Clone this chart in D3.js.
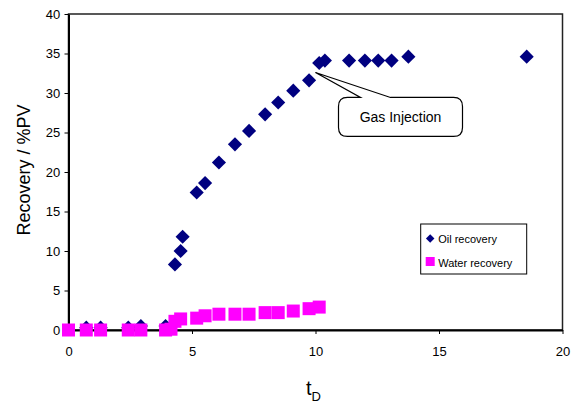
<!DOCTYPE html>
<html>
<head>
<meta charset="utf-8">
<script src="https://cdn.jsdelivr.net/npm/d3@7"></script>
<style>
  body { margin: 0; background: #fff; }
  svg { font-family: "Liberation Sans", Arial, sans-serif; }
</style>
</head>
<body>
<div class="center"></div>
<script>
// data
var oilTd  = [0.72, 1.3, 2.42, 2.93, 3.93, 4.31, 4.54, 4.62, 5.19, 5.53, 6.09, 6.74, 7.31, 7.96, 8.49, 9.10, 9.74, 10.15, 10.38, 11.36, 12.0, 12.54, 13.08, 13.76, 18.55];
var oilRec = [0.3, 0.3, 0.3, 0.5, 0.5, 8.3, 10.0, 11.8, 17.4, 18.6, 21.2, 23.5, 25.2, 27.3, 28.8, 30.3, 31.6, 33.8, 34.1, 34.1, 34.1, 34.1, 34.1, 34.6, 34.6];

var waterTd  = [0, 0.72, 1.3, 2.42, 2.93, 3.93, 4.15, 4.31, 4.54, 5.19, 5.53, 6.09, 6.74, 7.31, 7.96, 8.49, 9.10, 9.74, 10.15];
var waterRec = [0, 0, 0, 0, 0, 0, 0.1, 1.1, 1.4, 1.5, 1.8, 2.0, 2.0, 2.0, 2.2, 2.2, 2.4, 2.7, 2.9];

var xTicks = [0, 5, 10, 15, 20];
var yTicks = [0, 5, 10, 15, 20, 25, 30, 35, 40];

var seriesNames = ["Oil recovery", "Water recovery"];
var calloutText = "Gas Injection";
var calloutAt = {td: 10.0, rec: 32.6};

// Set the dimensions of the canvas / graph
var margin = {top: 14, right: 8.5, bottom: 78, left: 68.5},
    width = 571 - margin.left - margin.right,
    height = 408 - margin.top - margin.bottom;

var x = d3.scaleLinear().domain([0, 20]).range([0, width]);
var y = d3.scaleLinear().domain([0, 40]).range([height, 0]);

var oil = oilTd.map(function(t, i) { return {td: t, rec: oilRec[i]}; });
var water = waterTd.map(function(t, i) { return {td: t, rec: waterRec[i]}; });

var svg = d3.select("div.center").append("svg")
    .attr("width", 571)
    .attr("height", 408)
  .append("g")
    .attr("transform", "translate(" + margin.left + "," + margin.top + ")");

// plot frame
svg.append("rect")
    .attr("width", width)
    .attr("height", height)
    .attr("fill", "none")
    .attr("stroke", "#222")
    .attr("stroke-width", 1.5);

// axes
var xAxis = svg.append("g")
    .attr("transform", "translate(0," + height + ")")
    .call(d3.axisBottom(x).tickValues(xTicks).tickSize(4).tickSizeOuter(0));
var yAxis = svg.append("g")
    .call(d3.axisLeft(y).tickValues(yTicks).tickSize(4).tickSizeOuter(0));

[xAxis, yAxis].forEach(function(a) {
  a.select(".domain").attr("stroke", "#000").attr("stroke-width", 2);
  a.selectAll(".tick line").attr("stroke", "#000");
  a.selectAll(".tick text")
      .attr("font-size", 13)
      .attr("font-family", "Liberation Sans, Arial, sans-serif")
      .attr("fill", "#000");
});
xAxis.selectAll(".tick text").attr("dy", "1.45em");
yAxis.selectAll(".tick text").attr("dx", "-0.1em");

// markers
var diamond = d3.symbol().type(d3.symbolSquare).size(100);
var square = d3.symbol().type(d3.symbolSquare).size(169);

svg.selectAll("path.oil")
    .data(oil)
    .enter().append("path")
    .attr("class", "oil")
    .attr("d", diamond)
    .attr("fill", "#000080")
    .attr("transform", function(d) { return "translate(" + x(d.td) + "," + y(d.rec) + ") rotate(45)"; });

svg.selectAll("path.water")
    .data(water)
    .enter().append("path")
    .attr("class", "water")
    .attr("d", square)
    .attr("fill", "#ff00ff")
    .attr("transform", function(d) { return "translate(" + x(d.td) + "," + y(d.rec) + ")"; });

// callout
var tipX = x(calloutAt.td), tipY = y(calloutAt.rec);
var bx0 = tipX + 23, by0 = tipY + 25, bx1 = bx0 + 124, by1 = by0 + 39, r = 9;
var p = d3.path();
p.moveTo(bx0 + r, by0);
p.lineTo(bx0 + 22, by0);
p.lineTo(tipX, tipY);
p.lineTo(bx0 + 52, by0);
p.lineTo(bx1 - r, by0);
p.quadraticCurveTo(bx1, by0, bx1, by0 + r);
p.lineTo(bx1, by1 - r);
p.quadraticCurveTo(bx1, by1, bx1 - r, by1);
p.lineTo(bx0 + r, by1);
p.quadraticCurveTo(bx0, by1, bx0, by1 - r);
p.lineTo(bx0, by0 + r);
p.quadraticCurveTo(bx0, by0, bx0 + r, by0);
p.closePath();
svg.append("path")
    .attr("d", p.toString())
    .attr("fill", "#fff")
    .attr("stroke", "#000")
    .attr("stroke-width", 1.2);
svg.append("text")
    .attr("x", (bx0 + bx1) / 2)
    .attr("y", by0 + 25)
    .attr("text-anchor", "middle")
    .attr("font-size", 14)
    .text(calloutText);

// legend
var lg = svg.append("g").attr("transform", "translate(" + (420.7 - margin.left) + "," + (224 - margin.top) + ")");
lg.append("rect")
    .attr("width", 106)
    .attr("height", 50)
    .attr("fill", "#fff")
    .attr("stroke", "#000")
    .attr("stroke-width", 1);
lg.append("path")
    .attr("d", d3.symbol().type(d3.symbolSquare).size(36))
    .attr("fill", "#000080")
    .attr("transform", "translate(9.5,14.5) rotate(45)");
lg.append("rect")
    .attr("x", 5).attr("y", 33)
    .attr("width", 9).attr("height", 9)
    .attr("fill", "#ff00ff");
lg.selectAll("text.lab")
    .data(seriesNames)
    .enter().append("text")
    .attr("class", "lab")
    .attr("x", 17.5)
    .attr("y", function(d, i) { return 18.5 + i * 24; })
    .attr("font-size", 11)
    .text(function(d) { return d; });

// axis titles
svg.append("text")
    .attr("transform", "translate(" + (30 - margin.left) + "," + (height / 2 - 2) + ") rotate(-90)")
    .attr("text-anchor", "middle")
    .attr("font-size", 18)
    .text("Recovery / %PV");

var xt = svg.append("text")
    .attr("x", x(10) - 2)
    .attr("y", height + 65)
    .attr("text-anchor", "middle")
    .attr("font-size", 20);
xt.append("tspan").text("t");
xt.append("tspan").attr("font-size", 13).attr("dy", 6).text("D");
</script>
</body>
</html>
